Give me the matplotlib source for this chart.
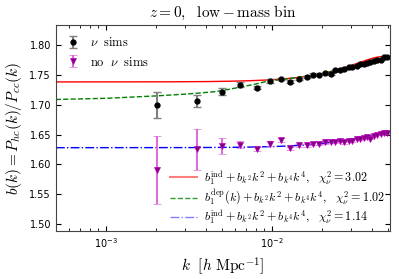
import numpy as np
import matplotlib
matplotlib.use("Agg")
import matplotlib.pyplot as plt
from matplotlib.lines import Line2D

plt.rcParams['mathtext.fontset'] = 'cm'
plt.rcParams['font.family'] = 'DejaVu Sans'

# nu sims (black)
k_nu = [0.00202, 0.00355, 0.0050, 0.00647, 0.00814, 0.0098, 0.0113, 0.0129, 0.01455,
        0.0162, 0.01774, 0.0193, 0.0209, 0.0226, 0.0241, 0.0257, 0.0274, 0.0291,
        0.0306, 0.0324, 0.0340, 0.0358, 0.0375, 0.0393, 0.0412, 0.0431, 0.0452,
        0.0473, 0.0495]
b_nu = [1.700, 1.707, 1.722, 1.734, 1.729, 1.740, 1.743, 1.739, 1.743,
        1.747, 1.751, 1.751, 1.753, 1.752, 1.758, 1.758, 1.760, 1.763,
        1.764, 1.766, 1.768, 1.768, 1.770, 1.772, 1.773, 1.776, 1.776,
        1.780, 1.780]
e_nu = [0.022, 0.010, 0.006, 0.004, 0.003, 0.003, 0.002, 0.002, 0.002,
        0.002, 0.002, 0.001, 0.001, 0.001, 0.001, 0.001, 0.001, 0.001,
        0.001, 0.001, 0.001, 0.001, 0.001, 0.001, 0.001, 0.001, 0.001,
        0.001, 0.001]

# no nu sims (purple)
k_no = k_nu
b_no = [1.591, 1.625, 1.631, 1.633, 1.626, 1.635, 1.641, 1.627, 1.632,
        1.632, 1.635, 1.635, 1.637, 1.638, 1.638, 1.640, 1.637, 1.639,
        1.640, 1.642, 1.642, 1.645, 1.646, 1.643, 1.648, 1.650, 1.651,
        1.652, 1.652]
e_no = [0.057, 0.035, 0.013, 0.006, 0.004, 0.004, 0.004, 0.003, 0.003,
        0.002, 0.002, 0.002, 0.002, 0.002, 0.002, 0.002, 0.002, 0.002,
        0.002, 0.001, 0.001, 0.001, 0.001, 0.001, 0.001, 0.001, 0.001,
        0.001, 0.001]

# fit parameters (b1, bk2, bk4)
red_fit = [1.7385, 38.5, -8667.0]
blue_fit = [1.628, 19.0, -3762.0]

# scale dependent fit
k_green = [5e-4, 1e-3, 0.002, 0.003, 0.0037, 0.0045, 0.0055, 0.0065, 0.008, 0.0095,
           0.012, 0.015, 0.02, 0.025, 0.03, 0.035, 0.04, 0.045, 0.051]
b_green = [1.709, 1.711, 1.715, 1.718, 1.720, 1.722, 1.726, 1.730, 1.735, 1.740,
           1.743, 1.747, 1.752, 1.759, 1.765, 1.770, 1.774, 1.777, 1.780]

k = np.logspace(np.log10(5e-4), np.log10(0.051), 300)

fig = plt.figure(figsize=(3.99, 2.79), dpi=100)
ax = fig.add_axes([0.140, 0.172, 0.837, 0.738])

ax.plot(k, red_fit[0] + red_fit[1]*k**2 + red_fit[2]*k**4, 'r-', lw=1)
ax.plot(k_green, b_green, '--', color='green', lw=1)
ax.plot(k, blue_fit[0] + blue_fit[1]*k**2 + blue_fit[2]*k**4, '-.', color='blue', lw=1)

p1 = ax.errorbar(k_nu, b_nu, yerr=e_nu, fmt='o', color='black', ms=3.5,
                 ecolor='gray', elinewidth=1.5, capsize=3, capthick=1)
p2 = ax.errorbar(k_no, b_no, yerr=e_no, fmt='v', color='purple', ms=4,
                 mec='m', mew=0.5, ecolor='orchid', elinewidth=1.5, capsize=3, capthick=1)

ax.set_xscale('log')
ax.set_xlim(5e-4, 0.0514)
ax.set_ylim(1.488, 1.834)
ax.set_yticks([1.50, 1.55, 1.60, 1.65, 1.70, 1.75, 1.80])
ax.tick_params(which='both', direction='in', top=True, right=True, labelsize=7)
for s in ax.spines.values():
    s.set_color('#444444')

ax.set_title(r'$z=0,\ \ \mathrm{low-mass\ bin}$', fontsize=11)
ax.set_xlabel(r'$k\ \ [h\ \mathrm{Mpc}^{-1}]$', fontsize=11)
ax.set_ylabel(r'$b(k)=P_{hc}(k)/P_{cc}(k)$', fontsize=11)

leg1 = ax.legend([p1, p2], [r'$\nu\ \ \mathrm{sims}$', r'$\mathrm{no}\ \ \nu\ \ \mathrm{sims}$'],
                 loc='upper left', frameon=False, fontsize=9, numpoints=1,
                 handlelength=1.0, handletextpad=0.8, labelspacing=0.5,
                 borderaxespad=0.5)
ax.add_artist(leg1)

# faded handles like the original legend
h1 = Line2D([], [], color='red', lw=1.5, alpha=0.5)
h2 = Line2D([], [], color='green', ls='--', lw=1, alpha=0.8)
h3 = Line2D([], [], color='blue', ls='-.', lw=1, alpha=0.5)
ax.legend([h1, h2, h3],
          [r'$b_1^{\rm ind}+b_{k^2}k^2+b_{k^4}k^4,\ \ \chi^2_\nu=3.02$',
           r'$b_1^{\rm dep}(k)+b_{k^2}k^2+b_{k^4}k^4,\ \ \chi^2_\nu=1.02$',
           r'$b_1^{\rm ind}+b_{k^2}k^2+b_{k^4}k^4,\ \ \chi^2_\nu=1.14$'],
          loc='lower right', frameon=False, fontsize=8.7,
          handlelength=2.2, handletextpad=0.6, labelspacing=0.0,
          borderaxespad=0.0)

fig.savefig('out.png', dpi=100)
